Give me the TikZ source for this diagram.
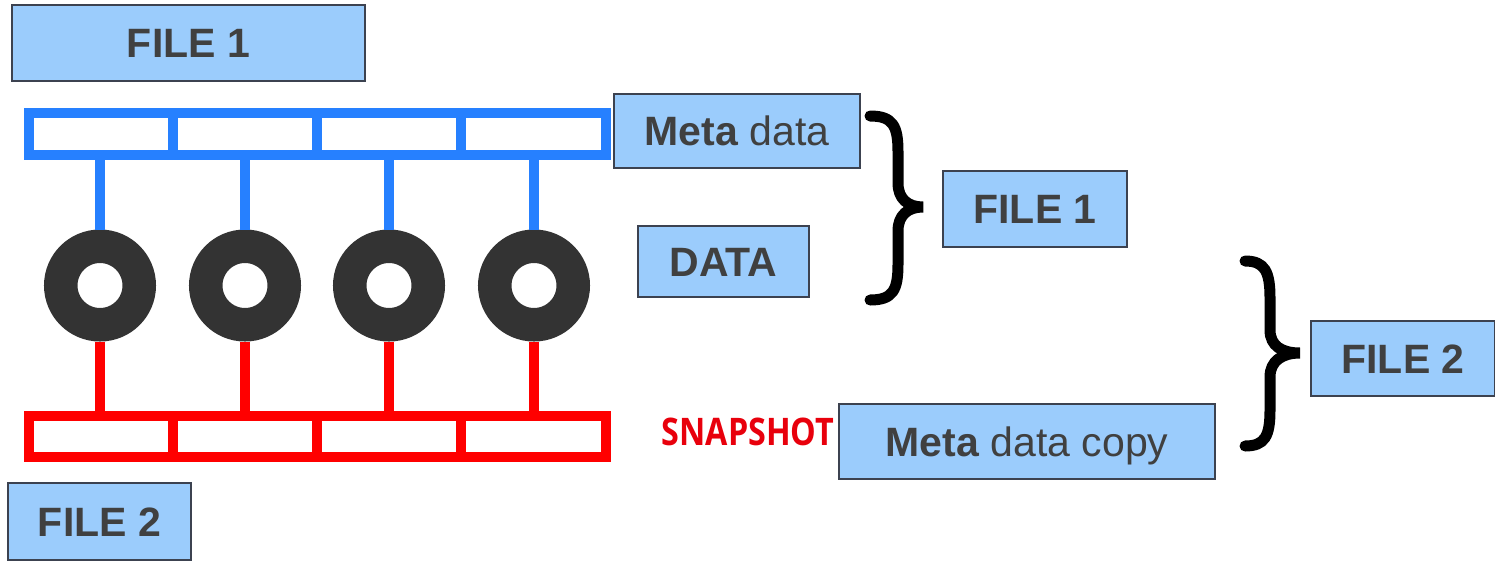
\documentclass[tikz,border=0pt]{standalone}
\usepackage{fontspec}
\setmainfont{Liberation Sans}
\newfontfamily\snapfont{Open Sans}
\definecolor{boxfill}{RGB}{155,204,252}
\definecolor{boxline}{RGB}{60,66,80}
\definecolor{txtgray}{RGB}{64,64,64}
\definecolor{barblue}{RGB}{38,128,255}
\definecolor{barred}{RGB}{255,0,0}
\definecolor{donut}{RGB}{51,51,51}
\definecolor{snapred}{RGB}{232,0,12}
\tikzset{
  lbox/.style={draw=boxline, line width=1.3pt, fill=boxfill, text=txtgray,
    inner sep=0pt, text height=29pt, text depth=0pt,
    font=\fontsize{41}{48}\selectfont},
  bluebar/.style={draw=barblue, line width=10pt},
  redbar/.style={draw=barred, line width=10pt},
  donutnode/.style={circle, draw=donut, line width=33.5pt, minimum size=78.5pt, inner sep=0pt},
  bracepath/.style={draw=black, line width=11pt, line cap=round}
}
\begin{document}
\begin{tikzpicture}[x=1pt,y=-1pt]
\useasboundingbox (0,0) rectangle (1495,560);
% boxes
\node[lbox, minimum width=353pt, minimum height=76pt] (f1a) at (188.5,43) {\textbf{FILE 1}};
\node[lbox, minimum width=183pt, minimum height=77pt] (f2a) at (99.5,521.5) {\textbf{FILE 2}};
\node[lbox, minimum width=246pt, minimum height=74pt] (meta) at (737,131) {\textbf{Meta} data};
\node[lbox, minimum width=171pt, minimum height=71pt] (data) at (723.5,261.5) {\textbf{DATA}};
\node[lbox, minimum width=184pt, minimum height=76pt] (f1b) at (1035,209) {\textbf{FILE 1}};
\node[lbox, minimum width=184pt, minimum height=75pt] (f2b) at (1403,358.5) {\textbf{FILE 2}};
\node[lbox, minimum width=376pt, minimum height=75pt] (copy) at (1027,441.5) {\textbf{Meta} data copy};
\node[text=snapred, inner sep=0pt, xscale=0.85, font=\snapfont\bfseries\fontsize{38}{44}\selectfont] (snap) at (748,432) {SNAPSHOT};
% bars
\draw[bluebar] (29,113) rectangle (606,155);
\foreach \x in {173,317,461} \draw[bluebar] (\x,113) -- (\x,155);
\draw[redbar] (29,416) rectangle (606,457);
\foreach \x in {173,317,461} \draw[redbar] (\x,416) -- (\x,457);
% donuts
\foreach \i/\x in {1/100,2/245,3/389,4/534}{
  \coordinate (bt\i) at (\x,160);
  \coordinate (rt\i) at (\x,411);
  \node[donutnode] (d\i) at (\x,285.5) {};
  \draw[bluebar] (bt\i) -- (d\i.north);
  \draw[redbar] (d\i.south) -- (rt\i);
}
% braces
\draw[bracepath] (870,116) .. controls (893,116) and (898,126) .. (898,152) -- (898,183)
  .. controls (898,199) and (908,207) .. (923,207)
  .. controls (908,207) and (898,215) .. (898,231) -- (898,264)
  .. controls (898,290) and (893,300) .. (870,300);
\draw[bracepath] (1245,261) .. controls (1265,261) and (1270,272) .. (1270,298) -- (1270,330)
  .. controls (1270,346) and (1282,353) .. (1300,353)
  .. controls (1282,353) and (1270,361) .. (1270,377) -- (1270,410)
  .. controls (1270,436) and (1265,446) .. (1245,446);
\end{tikzpicture}
\end{document}
